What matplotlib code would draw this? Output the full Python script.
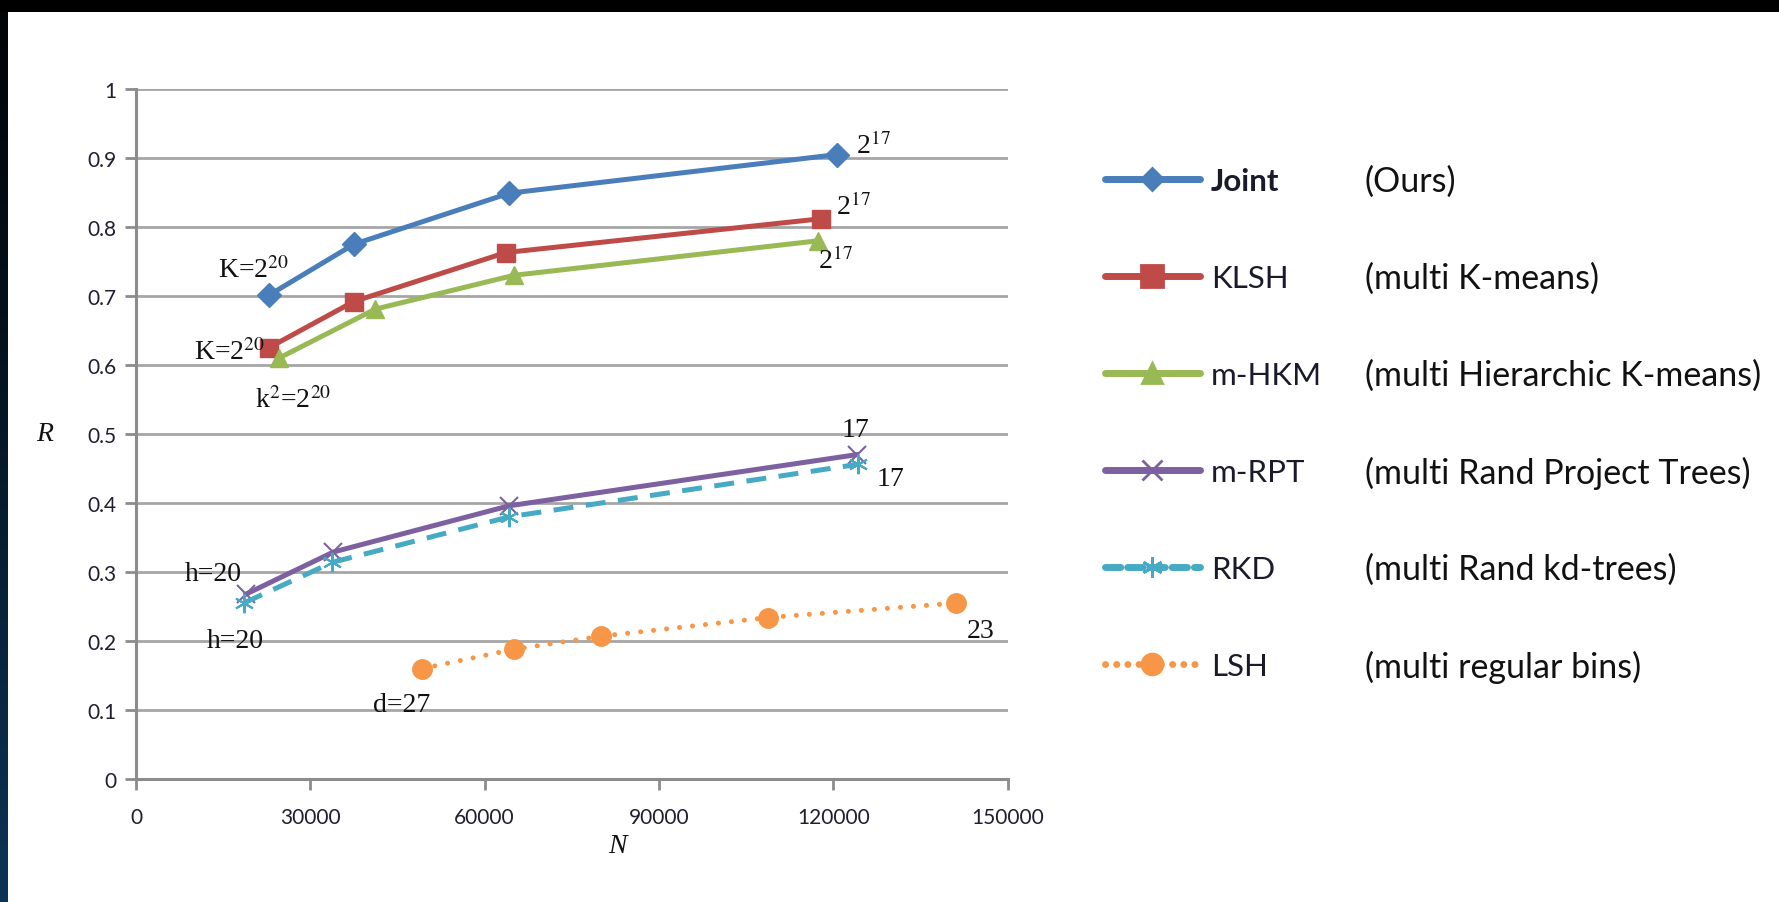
import numpy as np
import matplotlib
matplotlib.use("Agg")
import matplotlib.pyplot as plt
from matplotlib.lines import Line2D
from matplotlib.colors import LinearSegmentedColormap

plt.rcParams['mathtext.fontset'] = 'stix'

# data
joint_x = [22850, 37500, 64250, 120700]
joint_y = [0.701, 0.775, 0.849, 0.905]
klsh_x = [22850, 37500, 63670, 117970]
klsh_y = [0.625, 0.692, 0.763, 0.812]
hkm_x = [24600, 41200, 65040, 117380]
hkm_y = [0.610, 0.681, 0.730, 0.780]
rpt_x = [18950, 33980, 64260, 124020]
rpt_y = [0.268, 0.329, 0.396, 0.470]
rkd_x = [18550, 33790, 64260, 124220]
rkd_y = [0.255, 0.314, 0.380, 0.456]
lsh_x = [49220, 65040, 80080, 108790, 141210]
lsh_y = [0.160, 0.188, 0.207, 0.234, 0.255]

names = ['Joint', 'KLSH', 'm-HKM', 'm-RPT', 'RKD', 'LSH']
descs = ['(Ours)', '(multi K-means)', '(multi Hierarchic K-means)',
         '(multi Rand Project Trees)', '(multi Rand kd-trees)', '(multi regular bins)']
colors = ['#4a7ebb', '#be4b48', '#98b954', '#7d60a0', '#46aac5', '#f79646']

W, H = 1779, 903
fig = plt.figure(figsize=(W / 100, H / 100), dpi=100)
fig.patch.set_facecolor('white')

# slide background strips (black top, dark blue left edge)
bg = fig.add_axes([0, 0, 1, 1], zorder=-10)
bg.set_xlim(0, W)
bg.set_ylim(H, 0)
bg.axis('off')
grad = np.linspace(0, 1, 200).reshape(-1, 1)
cm = LinearSegmentedColormap.from_list('edge', ['#020406', '#03101a', '#082238', '#0b3358'])
bg.imshow(grad, cmap=cm, extent=[0, 8, H, 0], aspect='auto')
bg.add_patch(plt.Rectangle((0, 0), W, 13, color='black', lw=0))

ax = fig.add_axes([136 / W, 1 - 780 / H, (1007.5 - 136) / W, (780 - 90) / H])
ax.set_xlim(0, 150000)
ax.set_ylim(0, 1)

grid_c = '#a6a6a6'
ax.set_yticks(np.arange(0, 1.01, 0.1))
ax.set_yticklabels(['0', '0.1', '0.2', '0.3', '0.4', '0.5', '0.6', '0.7', '0.8', '0.9', '1'])
ax.set_xticks([0, 30000, 60000, 90000, 120000, 150000])
ax.set_xticklabels(['0', '30000', '60000', '90000', '120000', '150000'])
ax.grid(axis='y', color=grid_c, lw=2)
ax.set_axisbelow(True)
for s in ['top', 'right']:
    ax.spines[s].set_visible(False)
for s in ['left', 'bottom']:
    ax.spines[s].set_color('#8c8c8c')
    ax.spines[s].set_linewidth(2.2)
ax.tick_params(axis='both', colors='#8c8c8c', width=2, length=8, labelsize=15,
               labelcolor='#1f1f2f')
ax.tick_params(axis='x', pad=12)
ax.tick_params(axis='y', pad=6)
for lab in ax.get_xticklabels() + ax.get_yticklabels():
    lab.set_family('Lato')

lw = 3.6
ax.plot(joint_x, joint_y, color=colors[0], lw=lw, marker='D', ms=12, clip_on=False)
ax.plot(klsh_x, klsh_y, color=colors[1], lw=lw, marker='s', ms=13, clip_on=False)
ax.plot(hkm_x, hkm_y, color=colors[2], lw=lw, marker='^', ms=13, clip_on=False)
ax.plot(rpt_x, rpt_y, color=colors[3], lw=lw, marker='x', ms=13, mew=1.5, clip_on=False)
ax.plot(rkd_x, rkd_y, color=colors[4], lw=lw, ls=(0, (4, 2.5)), marker=(6, 2, 0),
        ms=14, mew=1.5, clip_on=False)
ax.plot(lsh_x, lsh_y, color=colors[5], lw=lw, ls=(0, (0.01, 2.6)), dash_capstyle='round',
        marker='o', ms=14, clip_on=False)

serif = dict(family='Liberation Serif', fontsize=20, color='#111111')
ax.text(26300, joint_y[0] + 0.018, r'K=2$^{20}$', ha='right', va='bottom', **serif)
ax.text(klsh_x[0] - 700, klsh_y[0] - 0.005, r'K=2$^{20}$', ha='right', va='center', **serif)
ax.text(20500, hkm_y[0] - 0.040, r'k$^2$=2$^{20}$', ha='left', va='top', **serif)
ax.text(joint_x[3] + 3300, joint_y[3] - 0.006, r'2$^{17}$', ha='left', va='bottom', **serif)
ax.text(klsh_x[3] + 2500, klsh_y[3] - 0.002, r'2$^{17}$', ha='left', va='bottom', **serif)
ax.text(hkm_x[3] + 0, hkm_y[3] - 0.008, r'2$^{17}$', ha='left', va='top', **serif)
ax.text(rpt_x[3] - 100, rpt_y[3] + 0.036, '17', ha='center', va='center', **serif)
ax.text(rkd_x[3] + 3200, rkd_y[3] - 0.020, '17', ha='left', va='center', **serif)
ax.text(rpt_x[0] - 10600, rpt_y[0] + 0.030, 'h=20', ha='left', va='center', **serif)
ax.text(rkd_x[0] - 6400, rkd_y[0] - 0.054, 'h=20', ha='left', va='center', **serif)
ax.text(lsh_x[0] - 8400, lsh_y[0] - 0.052, 'd=27', ha='left', va='center', **serif)
ax.text(lsh_x[4] + 1800, lsh_y[4] - 0.040, '23', ha='left', va='center', **serif)

ax.text(-0.105, 0.5, 'R', transform=ax.transAxes, ha='center', va='center',
        family='Liberation Serif', style='italic', fontsize=20, color='#111111')
ax.text(0.553, -0.097, 'N', transform=ax.transAxes, ha='center', va='center',
        family='Liberation Serif', style='italic', fontsize=20, color='#111111')

# custom legend on the right
leg_y = [180, 277, 374, 471, 568, 665]
markers = ['D', 's', '^', 'x', (6, 2, 0), 'o']
msizes = [11, 16, 15, 15, 15, 15]
styles = ['-', '-', '-', '-', (0, (2.2, 1.0)), (0, (0.01, 1.6))]
for i in range(6):
    y = leg_y[i]
    ln = Line2D([1105, 1200], [y, y], color=colors[i], lw=5, ls=styles[i],
                dash_capstyle='round', solid_capstyle='round')
    bg.add_line(ln)
    bg.plot([1152], [y], marker=markers[i], ms=msizes[i], color=colors[i], mew=2)
    bg.text(1211, y + 2, names[i], ha='left', va='center', fontsize=22.5, family='Lato',
            fontweight='bold' if i == 0 else 'normal', color='#1a1a2a')
    bg.text(1365, y + 2, descs[i], ha='left', va='center', fontsize=24.5, family='Lato',
            color='#111111')

fig.savefig('out.png', dpi=100, facecolor='white')
